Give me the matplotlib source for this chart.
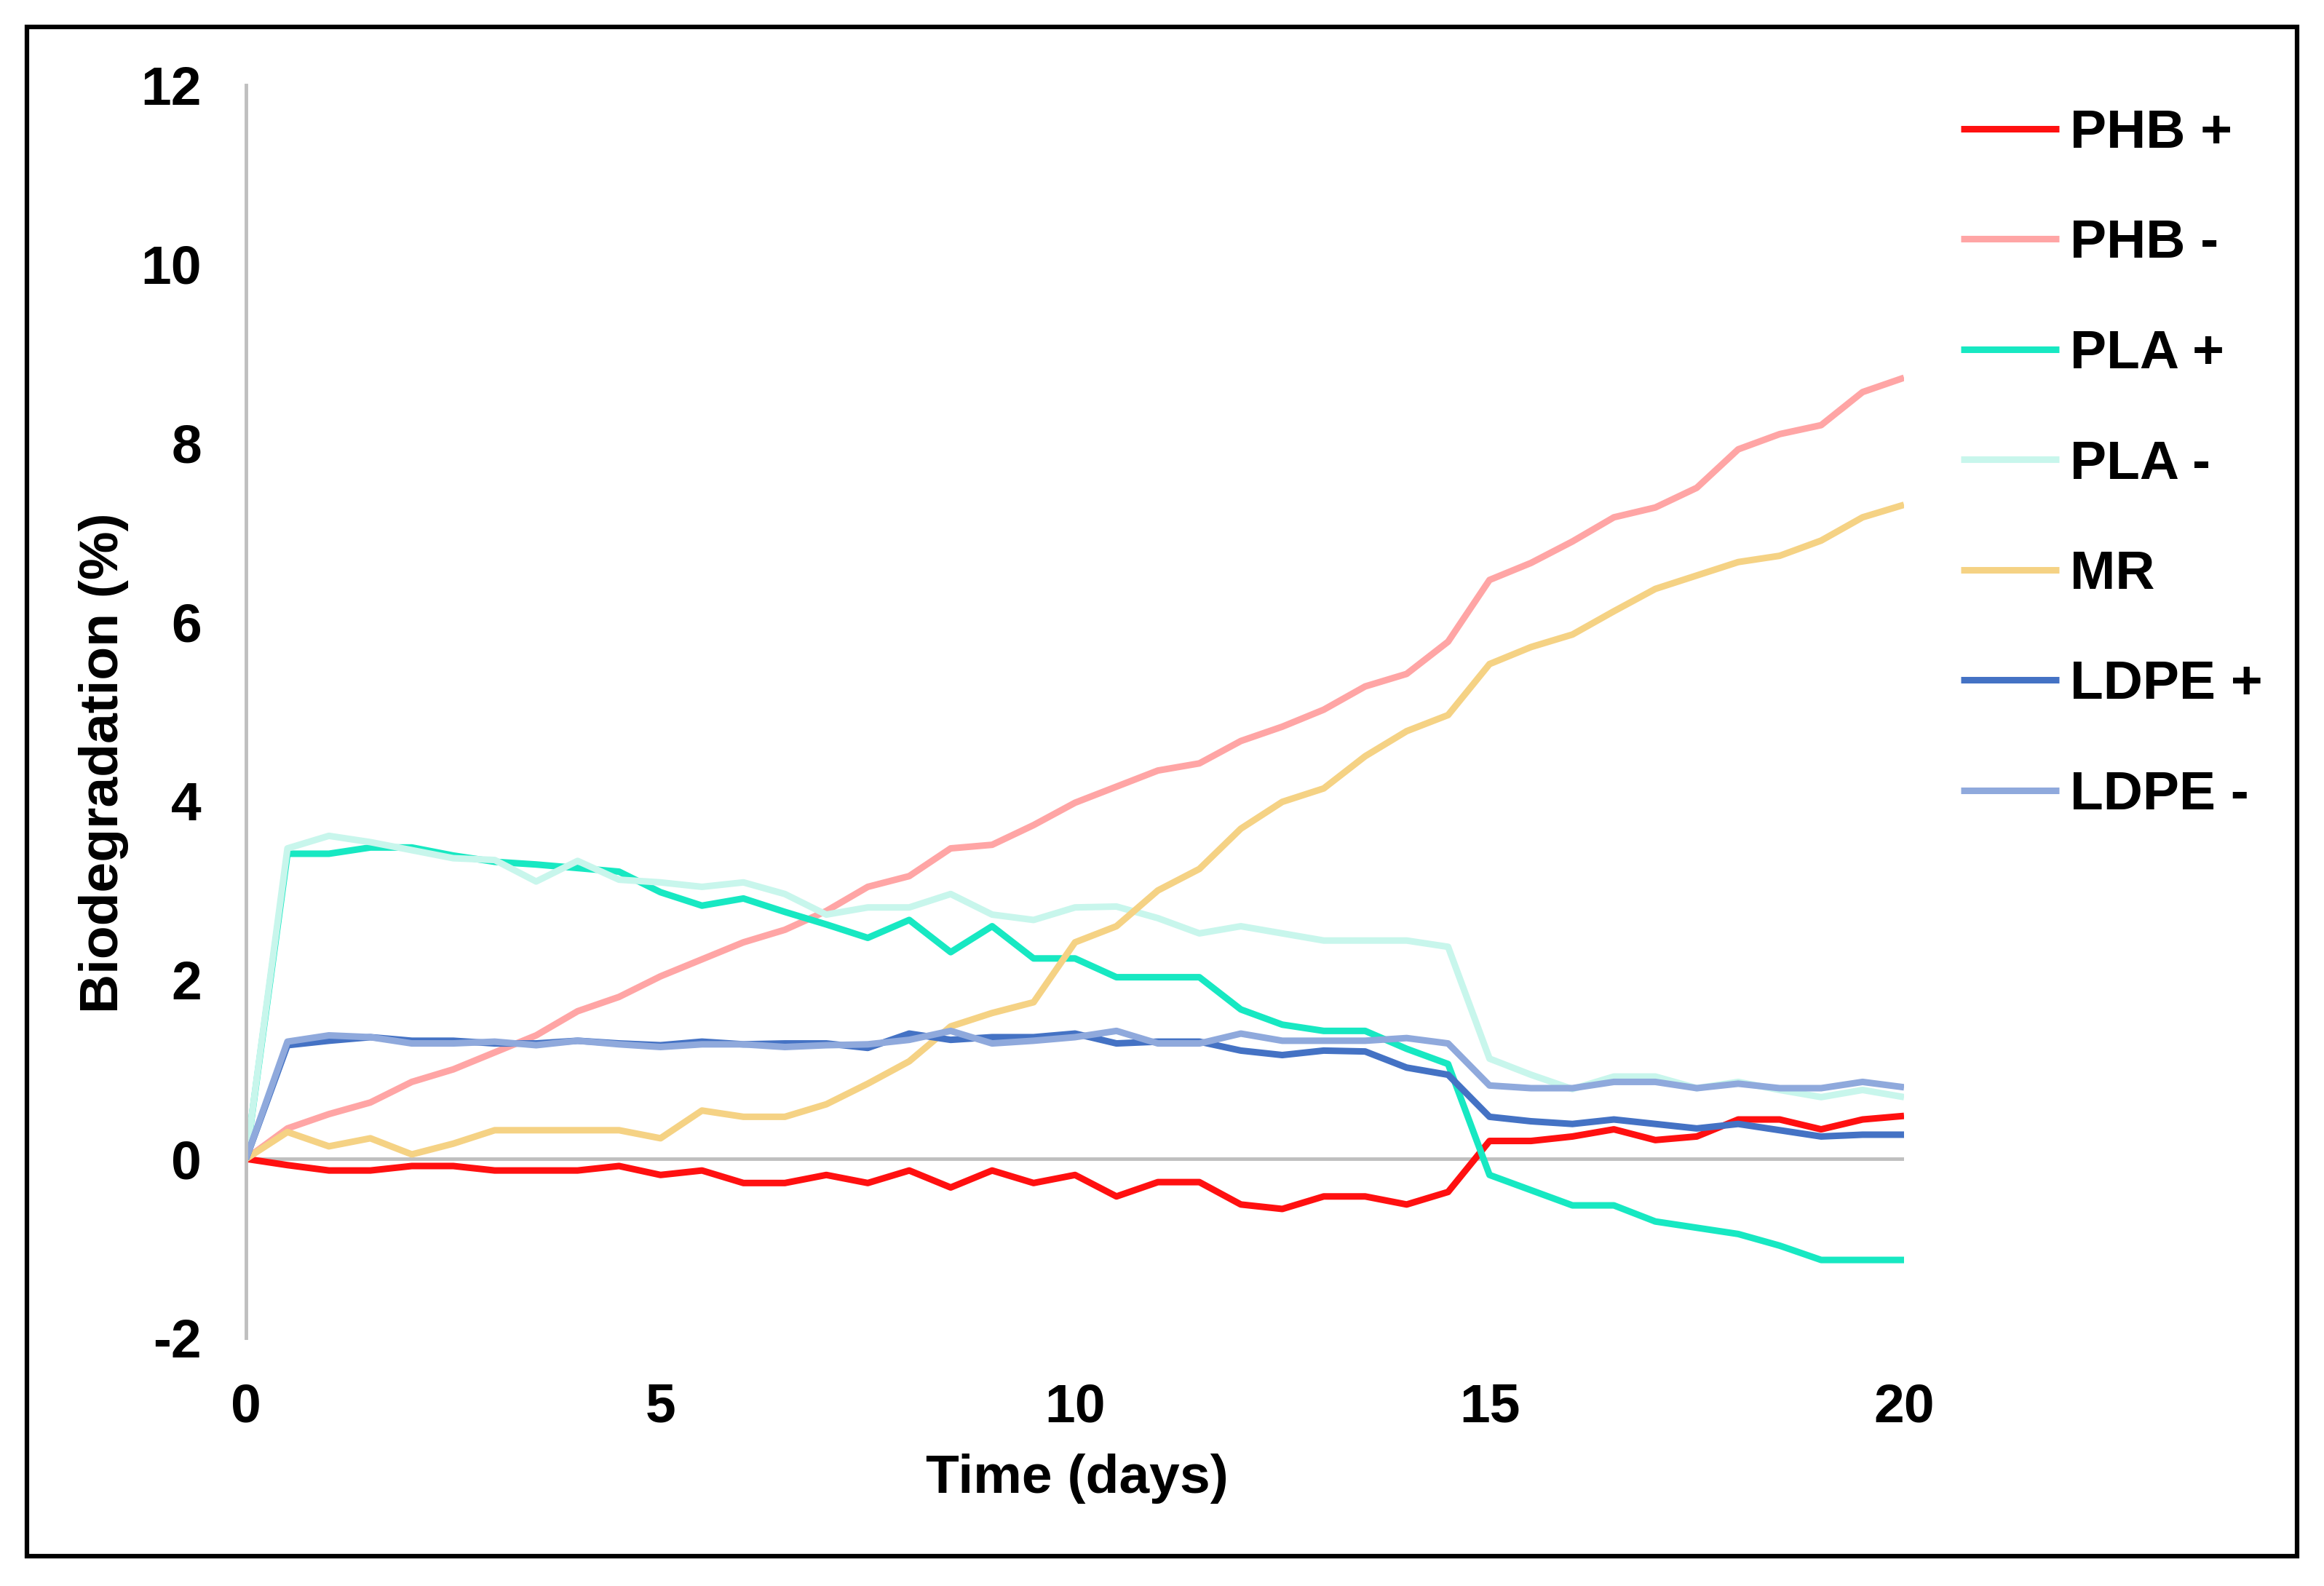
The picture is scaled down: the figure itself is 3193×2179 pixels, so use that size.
"""
Biodegradation curves, redrawn from the reference figure
"""

import numpy as np
import matplotlib
matplotlib.use("Agg")
import matplotlib.pyplot as plt
from matplotlib.patches import Rectangle

plt.rcParams['font.family'] = ['Liberation Sans', 'DejaVu Sans']
plt.rcParams['font.weight'] = 'bold'
plt.rcParams['axes.unicode_minus'] = False

# sampling every half day, 0 .. 20
days = np.arange(41) * 0.5

phb_plus = [0, -0.07, -0.13, -0.13, -0.08, -0.08, -0.13, -0.13, -0.13, -0.08,
            -0.18, -0.13, -0.27, -0.27, -0.18, -0.27, -0.13, -0.32, -0.13, -0.27,
            -0.18, -0.42, -0.26, -0.26, -0.51, -0.56, -0.42, -0.42, -0.51, -0.37,
            0.20, 0.20, 0.25, 0.33, 0.21, 0.25, 0.44, 0.44, 0.33, 0.44, 0.48]
phb_minus = [0, 0.34, 0.50, 0.63, 0.86, 1.00, 1.19, 1.38, 1.65, 1.81,
             2.04, 2.23, 2.42, 2.56, 2.77, 3.04, 3.16, 3.47, 3.51, 3.73,
             3.98, 4.16, 4.34, 4.42, 4.67, 4.83, 5.02, 5.28, 5.42, 5.78,
             6.47, 6.66, 6.90, 7.17, 7.28, 7.50, 7.93, 8.10, 8.20, 8.57, 8.73]
pla_plus = [0, 3.41, 3.41, 3.48, 3.48, 3.39, 3.32, 3.29, 3.25, 3.21,
            2.98, 2.83, 2.91, 2.76, 2.62, 2.47, 2.67, 2.31, 2.60, 2.24,
            2.24, 2.03, 2.03, 2.03, 1.67, 1.50, 1.43, 1.43, 1.23, 1.06,
            -0.18, -0.35, -0.52, -0.52, -0.70, -0.77, -0.84, -0.97, -1.13, -1.13, -1.13]
pla_minus = [0, 3.47, 3.61, 3.54, 3.45, 3.36, 3.34, 3.10, 3.33, 3.12,
             3.09, 3.04, 3.09, 2.96, 2.73, 2.81, 2.81, 2.96, 2.73, 2.67,
             2.81, 2.82, 2.69, 2.52, 2.60, 2.52, 2.44, 2.44, 2.44, 2.37,
             1.12, 0.94, 0.78, 0.92, 0.92, 0.79, 0.86, 0.77, 0.69, 0.77, 0.69]
mr = [0, 0.30, 0.14, 0.23, 0.05, 0.17, 0.32, 0.32, 0.32, 0.32,
      0.23, 0.54, 0.47, 0.47, 0.61, 0.84, 1.09, 1.48, 1.63, 1.75,
      2.42, 2.60, 3.00, 3.24, 3.69, 3.99, 4.14, 4.50, 4.78, 4.96,
      5.53, 5.72, 5.86, 6.12, 6.37, 6.52, 6.67, 6.74, 6.91, 7.17, 7.31]
ldpe_plus = [0, 1.27, 1.32, 1.36, 1.32, 1.32, 1.29, 1.29, 1.32, 1.29,
             1.27, 1.31, 1.28, 1.29, 1.29, 1.24, 1.40, 1.33, 1.36, 1.36,
             1.40, 1.29, 1.31, 1.31, 1.21, 1.16, 1.21, 1.20, 1.02, 0.94,
             0.47, 0.42, 0.39, 0.44, 0.39, 0.34, 0.39, 0.32, 0.25, 0.27, 0.27]
ldpe_minus = [0, 1.31, 1.38, 1.36, 1.29, 1.29, 1.31, 1.27, 1.32, 1.28,
              1.25, 1.28, 1.28, 1.25, 1.27, 1.28, 1.33, 1.43, 1.29, 1.32,
              1.36, 1.43, 1.29, 1.29, 1.40, 1.32, 1.32, 1.32, 1.35, 1.29,
              0.82, 0.79, 0.79, 0.86, 0.86, 0.79, 0.84, 0.79, 0.79, 0.86, 0.80]

labels = ["PHB +", "PHB -", "PLA +", "PLA -", "MR", "LDPE +", "LDPE -"]
series = [phb_plus, phb_minus, pla_plus, pla_minus, mr, ldpe_plus, ldpe_minus]
colors = ["#FF1010", "#FFA5A5", "#17E8C2", "#C8F6EC", "#F5D284", "#4472C4", "#8FA9DC"]

W, H = 3193, 2179
fig = plt.figure(figsize=(W / 100, H / 100), dpi=100)
ax = fig.add_axes([338 / W, 1 - 1838 / H, (2616 - 338) / W, (1838 - 117) / H])

for vals, lab, col in zip(series, labels, colors):
    ax.plot(days, vals, color=col, lw=6.5, label=lab, solid_capstyle='butt')

gray = "#BFBFBF"
ax.axhline(0, color=gray, lw=3.5, zorder=0)
ax.set_xlim(0, 20)
ax.set_ylim(-2, 12)
ax.set_xticks([0, 5, 10, 15, 20])
ax.set_yticks(range(-2, 13, 2))
for s in ["top", "right", "bottom"]:
    ax.spines[s].set_visible(False)
ax.spines["left"].set_color(gray)
ax.spines["left"].set_linewidth(3.5)
ax.tick_params(axis='both', length=0, labelsize=54)
ax.tick_params(axis='x', pad=44)
ax.tick_params(axis='y', pad=44)

fig.text(1480 / W, 1 - 2031 / H, "Time (days)", fontsize=54, fontweight='bold',
         ha='center', va='center')
fig.text(143 / W, 1 - 1048 / H, "Biodegradation (%)", fontsize=54, fontweight='bold',
         ha='center', va='center', rotation=90)

leg = ax.legend(loc='upper left', bbox_to_anchor=(2694 / W, 1 - 149 / H),
                bbox_transform=fig.transFigure, frameon=False, fontsize=54,
                handlelength=1.8, handletextpad=0.2, labelspacing=1.10,
                borderaxespad=0, borderpad=0)
for line in leg.get_lines():
    line.set_linewidth(6.5)

# outer black frame
fig.patches.append(Rectangle((37 / W, 1 - 2138 / H), (3156 - 37) / W, (2138 - 37) / H,
                             transform=fig.transFigure, fill=False,
                             edgecolor='black', lw=4.5))

fig.savefig("out.png", dpi=100)
